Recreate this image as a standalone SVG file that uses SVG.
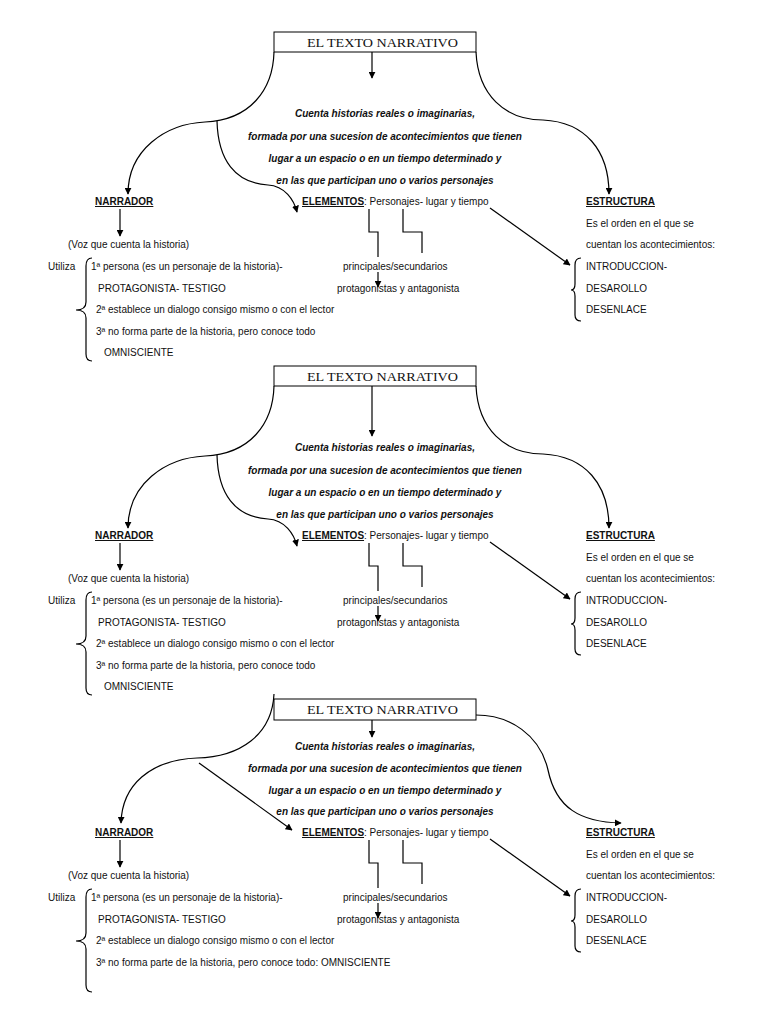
<svg xmlns="http://www.w3.org/2000/svg" width="768" height="1024" viewBox="0 0 768 1024">
<style>
.t{font-family:"Liberation Sans",Arial,sans-serif;font-size:10px;fill:#111}
.b{font-weight:bold}
.u{text-decoration:underline}
.bi{font-weight:bold;font-style:italic;text-anchor:middle}
.ttl{font-family:"Liberation Serif","Times New Roman",serif;font-size:13px;fill:#111}
.ln{fill:none;stroke:#000;stroke-width:1.2}
.ar{fill:none;stroke:#000;stroke-width:1.2;marker-end:url(#ah)}
.box{fill:#fff;stroke:#000;stroke-width:1}
</style>
<defs>
<marker id="ah" viewBox="0 0 10 10" refX="9" refY="5" markerWidth="7" markerHeight="7" orient="auto" markerUnits="userSpaceOnUse">
<path d="M0,0 L10,5 L0,10 z" fill="#000"/>
</marker>
</defs>
<rect width="768" height="1024" fill="#fff"/>

<!-- ===== SECTION 1 ===== -->
<g id="section1">
<g id="s1-title"><rect class="box" x="274" y="32" width="202" height="20"/><text class="ttl" x="307" y="46.5" textLength="151" lengthAdjust="spacingAndGlyphs">EL TEXTO NARRATIVO</text></g>
<g id="s1-desc">
<text class="t bi" x="385" y="117">Cuenta historias reales o imaginarias,</text>
<text class="t bi" x="385" y="139.5">formada por una sucesion de acontecimientos que tienen</text>
<text class="t bi" x="385" y="161.5">lugar a un espacio o en un tiempo determinado y</text>
<text class="t bi" x="385" y="183.5">en las que participan uno o varios personajes</text>
</g>
<g id="s1-narrador">
<text class="t b u" x="95" y="205">NARRADOR</text>
<text class="t" x="68" y="248">(Voz que cuenta la historia)</text>
<text class="t" x="48" y="270">Utiliza</text>
<path class="ln" d="M92,258 C88,258 86,261 86,266 L86,302 C86,307 83,310 76,310 C83,310 86,313 86,318 L86,354 C86,359 88,361 92,361"/>
<text class="t" x="91" y="270">1ª persona (es un personaje de la historia)-</text>
<text class="t" x="98" y="292">PROTAGONISTA- TESTIGO</text>
<text class="t" x="96" y="313">2ª establece un dialogo consigo mismo o con el lector</text>
<text class="t" x="96" y="334.5">3ª no forma parte de la historia, pero conoce todo</text>
<text class="t" x="104" y="356">OMNISCIENTE</text>
</g>
<g id="s1-elementos">
<text class="t" x="302" y="205"><tspan class="b u">ELEMENTOS</tspan>: Personajes- lugar y tiempo</text>
<text class="t" x="343" y="270">principales/secundarios</text>
<text class="t" x="337" y="292">protagonistas y antagonista</text>
</g>
<g id="s1-estructura">
<text class="t b u" x="586" y="205">ESTRUCTURA</text>
<text class="t" x="586" y="227">Es el orden en el que se</text>
<text class="t" x="586" y="248">cuentan los acontecimientos:</text>
<path class="ln" d="M581,258 C577,258 575,261 575,265 L575,284 C575,288 574,290 571,290 C574,290 575,292 575,296 L575,315 C575,319 577,321 581,321"/>
<text class="t" x="586" y="270">INTRODUCCION-</text>
<text class="t" x="586" y="292">DESAROLLO</text>
<text class="t" x="586" y="313">DESENLACE</text>
</g>
</g>

<!-- ===== SECTION 2 ===== -->
<g id="section2" transform="translate(0,334)">
<g id="s2-title"><rect class="box" x="274" y="32" width="202" height="20"/><text class="ttl" x="307" y="46.5" textLength="151" lengthAdjust="spacingAndGlyphs">EL TEXTO NARRATIVO</text></g>
<g id="s2-desc">
<text class="t bi" x="385" y="117">Cuenta historias reales o imaginarias,</text>
<text class="t bi" x="385" y="139.5">formada por una sucesion de acontecimientos que tienen</text>
<text class="t bi" x="385" y="161.5">lugar a un espacio o en un tiempo determinado y</text>
<text class="t bi" x="385" y="183.5">en las que participan uno o varios personajes</text>
</g>
<g id="s2-narrador">
<text class="t b u" x="95" y="205">NARRADOR</text>
<text class="t" x="68" y="248">(Voz que cuenta la historia)</text>
<text class="t" x="48" y="270">Utiliza</text>
<path class="ln" d="M92,258 C88,258 86,261 86,266 L86,302 C86,307 83,310 76,310 C83,310 86,313 86,318 L86,354 C86,359 88,361 92,361"/>
<text class="t" x="91" y="270">1ª persona (es un personaje de la historia)-</text>
<text class="t" x="98" y="292">PROTAGONISTA- TESTIGO</text>
<text class="t" x="96" y="313">2ª establece un dialogo consigo mismo o con el lector</text>
<text class="t" x="96" y="334.5">3ª no forma parte de la historia, pero conoce todo</text>
<text class="t" x="104" y="356">OMNISCIENTE</text>
</g>
<g id="s2-elementos">
<text class="t" x="302" y="205"><tspan class="b u">ELEMENTOS</tspan>: Personajes- lugar y tiempo</text>
<text class="t" x="343" y="270">principales/secundarios</text>
<text class="t" x="337" y="292">protagonistas y antagonista</text>
</g>
<g id="s2-estructura">
<text class="t b u" x="586" y="205">ESTRUCTURA</text>
<text class="t" x="586" y="227">Es el orden en el que se</text>
<text class="t" x="586" y="248">cuentan los acontecimientos:</text>
<path class="ln" d="M581,258 C577,258 575,261 575,265 L575,284 C575,288 574,290 571,290 C574,290 575,292 575,296 L575,315 C575,319 577,321 581,321"/>
<text class="t" x="586" y="270">INTRODUCCION-</text>
<text class="t" x="586" y="292">DESAROLLO</text>
<text class="t" x="586" y="313">DESENLACE</text>
</g>
</g>

<!-- ===== SECTION 3 ===== -->
<g id="section3">
<g id="s3-title"><rect class="box" x="274" y="699" width="202" height="21"/><text class="ttl" x="307" y="714" textLength="151" lengthAdjust="spacingAndGlyphs">EL TEXTO NARRATIVO</text></g>
<g id="s3-desc">
<text class="t bi" x="385" y="749.5">Cuenta historias reales o imaginarias,</text>
<text class="t bi" x="385" y="771.5">formada por una sucesion de acontecimientos que tienen</text>
<text class="t bi" x="385" y="793.5">lugar a un espacio o en un tiempo determinado y</text>
<text class="t bi" x="385" y="814.5">en las que participan uno o varios personajes</text>
</g>
<g transform="translate(0,631)">
<g id="s3-narrador">
<text class="t b u" x="95" y="205">NARRADOR</text>
<text class="t" x="68" y="248">(Voz que cuenta la historia)</text>
<text class="t" x="48" y="270">Utiliza</text>
<path class="ln" d="M92,258 C88,258 86,261 86,266 L86,302 C86,307 83,310 76,310 C83,310 86,313 86,318 L86,354 C86,359 88,361 92,361"/>
<text class="t" x="91" y="270">1ª persona (es un personaje de la historia)-</text>
<text class="t" x="98" y="292">PROTAGONISTA- TESTIGO</text>
<text class="t" x="96" y="313">2ª establece un dialogo consigo mismo o con el lector</text>
<text class="t" x="96" y="334.5">3ª no forma parte de la historia, pero conoce todo: OMNISCIENTE</text>
</g>
<g id="s3-elementos">
<text class="t" x="302" y="205"><tspan class="b u">ELEMENTOS</tspan>: Personajes- lugar y tiempo</text>
<text class="t" x="343" y="270">principales/secundarios</text>
<text class="t" x="337" y="292">protagonistas y antagonista</text>
</g>
<g id="s3-estructura">
<text class="t b u" x="586" y="205">ESTRUCTURA</text>
<text class="t" x="586" y="227">Es el orden en el que se</text>
<text class="t" x="586" y="248">cuentan los acontecimientos:</text>
<path class="ln" d="M581,258 C577,258 575,261 575,265 L575,284 C575,288 574,290 571,290 C574,290 575,292 575,296 L575,315 C575,319 577,321 581,321"/>
<text class="t" x="586" y="270">INTRODUCCION-</text>
<text class="t" x="586" y="292">DESAROLLO</text>
<text class="t" x="586" y="313">DESENLACE</text>
</g>
</g>
</g>

<!-- ===== CONNECTORS ===== -->
<g id="connectors">
<g id="c1">
<path class="ar" d="M372,52 V78"/>
<path class="ar" d="M274,52 C273,90 250,120 205,122 C165,124 128,150 128,194"/>
<path class="ar" d="M217,121 C218,160 235,183 268,185 C285,186 294,200 297,212"/>
<path class="ar" d="M476,52 C478,95 505,120 543,120 C585,122 609,150 609,194"/>
<path class="ar" d="M120,209 V236"/>
<path class="ln" d="M369,209 V232 H378 V257"/>
<path class="ar" d="M378,272 V287"/>
<path class="ln" d="M403,209 V232 H422 V253"/>
<path class="ar" d="M490,208 L570,265"/>
</g>
<g id="c2" transform="translate(0,334)">
<path class="ar" d="M372,52 V102"/>
<path class="ar" d="M274,52 C273,90 250,120 205,122 C165,124 128,150 128,194"/>
<path class="ar" d="M217,121 C218,160 235,183 268,185 C285,186 294,200 297,212"/>
<path class="ar" d="M476,52 C478,95 505,120 543,120 C585,122 609,150 609,194"/>
<path class="ar" d="M120,209 V236"/>
<path class="ln" d="M369,209 V232 H378 V257"/>
<path class="ar" d="M378,272 V287"/>
<path class="ln" d="M403,209 V232 H422 V253"/>
<path class="ar" d="M490,208 L570,265"/>
</g>
<g id="c3">
<path class="ar" d="M372,720 V737"/>
<path class="ar" d="M274,694 C272,735 240,757 197,758 C150,760 122,785 121,823"/>
<path class="ar" d="M199,763 L292,830"/>
<path class="ar" d="M476,715 C510,715 540,735 548,770 C556,808 580,822 621,823"/>
<g transform="translate(0,631)">
<path class="ar" d="M120,209 V236"/>
<path class="ln" d="M369,209 V232 H378 V257"/>
<path class="ar" d="M378,272 V287"/>
<path class="ln" d="M403,209 V232 H422 V253"/>
<path class="ar" d="M490,208 L570,265"/>
</g>
</g>
</g>
</svg>
